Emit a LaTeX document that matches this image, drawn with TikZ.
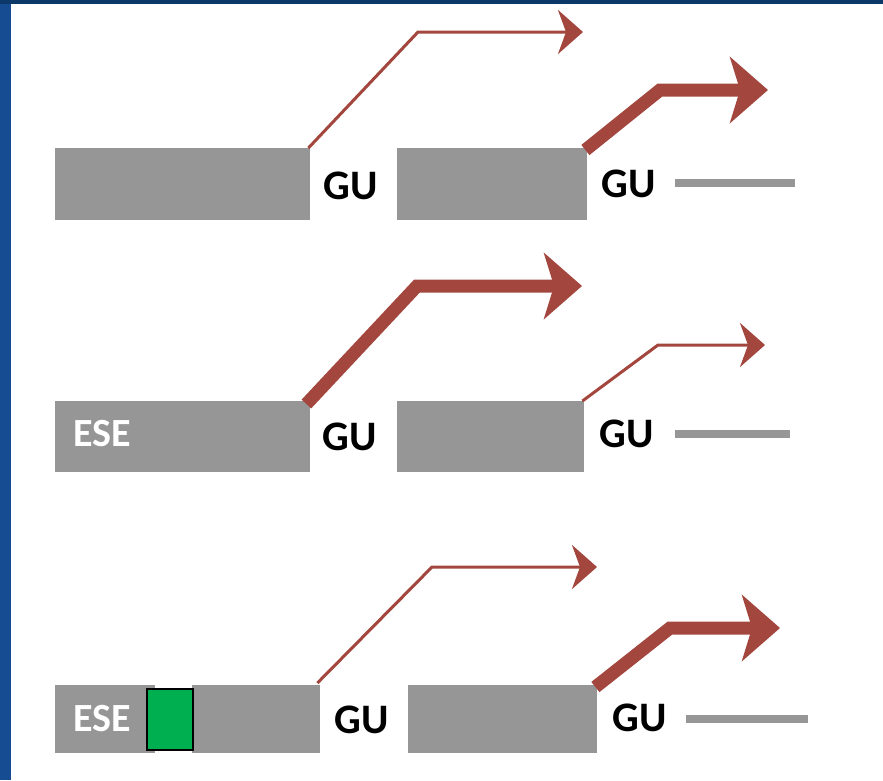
\documentclass[tikz,border=0pt]{standalone}
\usepackage{fontspec}
\setmainfont{Carlito}
\usetikzlibrary{arrows.meta}
\definecolor{bgblue}{RGB}{22,76,146}
\definecolor{bgtop}{RGB}{12,56,106}
\definecolor{exongray}{RGB}{150,150,150}
\definecolor{arrowred}{RGB}{162,70,62}
\definecolor{esegreen}{RGB}{0,176,80}
\tikzset{
  exon/.style={draw=none, fill=exongray, rectangle, inner sep=0pt, anchor=north west},
  gulabel/.style={inner sep=0pt, font=\fontsize{42}{42}\selectfont\bfseries, text=black},
  eselabel/.style={inner sep=0pt, font=\fontsize{40}{40}\selectfont\bfseries, text=white},
  thinarrow/.style={draw=arrowred, line width=3pt, line join=miter, -{Stealth[length=25pt,width=44pt,inset=8pt]}},
  thickarrow/.style={draw=arrowred, line width=13pt, line join=miter, -{Stealth[length=38pt,width=66pt,inset=10pt]}},
  intron/.style={draw=exongray, line width=8pt},
  esebox/.style={draw=black, line width=2pt, fill=esegreen, rectangle, inner sep=0pt, anchor=north west, minimum width=46pt, minimum height=61pt}
}
\begin{document}
\begin{tikzpicture}[x=1pt,y=-1pt]
\useasboundingbox (0,0) rectangle (883,780);
% background
\fill[white] (0,0) rectangle (883,780);
\fill[bgblue] (0,0) rectangle (11,780);
\fill[bgtop] (0,0) rectangle (883,4);

% ---------- Row 1 ----------
\node[exon, minimum width=255pt, minimum height=72pt] (a1) at (55,148) {};
\node[exon, minimum width=190pt, minimum height=72pt] (b1) at (397,148) {};
\node[gulabel] (gu1a) at (351,186) {GU};
\node[gulabel] (gu1b) at (629,184) {GU};
\coordinate (i1s) at (675,183);
\coordinate (i1e) at (795,183);
\draw[intron] (i1s) -- (i1e);
\coordinate (c1a) at (418,32);
\coordinate (e1a) at (583,32);
\draw[thinarrow] ([xshift=-2pt]a1.north east) -- (c1a) -- (e1a);
\coordinate (c1b) at (660,90);
\coordinate (e1b) at (768,90);
\draw[thickarrow] ([xshift=-2pt,yshift=-2pt]b1.north east) -- (c1b) -- (e1b);

% ---------- Row 2 ----------
\node[exon, minimum width=255pt, minimum height=71pt] (a2) at (55,401) {};
\node[eselabel] (ese2) at (102,434) {ESE};
\node[exon, minimum width=187pt, minimum height=71pt] (b2) at (397,401) {};
\node[gulabel] (gu2a) at (350,437) {GU};
\node[gulabel] (gu2b) at (627,434) {GU};
\coordinate (i2s) at (675,434);
\coordinate (i2e) at (790,434);
\draw[intron] (i2s) -- (i2e);
\coordinate (c2a) at (417,286);
\coordinate (e2a) at (582,286);
\draw[thickarrow] ([xshift=-4pt,yshift=-3pt]a2.north east) -- (c2a) -- (e2a);
\coordinate (c2b) at (658,345);
\coordinate (e2b) at (765,345);
\draw[thinarrow] ([xshift=-2pt]b2.north east) -- (c2b) -- (e2b);

% ---------- Row 3 ----------
\node[exon, minimum width=100pt, minimum height=68pt] (a3l) at (55,685) {};
\node[exon, minimum width=128pt, minimum height=68pt] (a3r) at (192,685) {};
\node[esebox] (g3) at (146,688) {};
\node[eselabel] (ese3) at (102,719) {ESE};
\node[exon, minimum width=189pt, minimum height=68pt] (b3) at (408,685) {};
\node[gulabel] (gu3a) at (362,720) {GU};
\node[gulabel] (gu3b) at (640,718) {GU};
\coordinate (i3s) at (686,719);
\coordinate (i3e) at (808,719);
\draw[intron] (i3s) -- (i3e);
\coordinate (c3a) at (432,567);
\coordinate (e3a) at (597,567);
\draw[thinarrow] ([xshift=-3pt,yshift=2pt]a3r.north east) -- (c3a) -- (e3a);
\coordinate (c3b) at (670,628);
\coordinate (e3b) at (780,628);
\draw[thickarrow] ([xshift=-2pt,yshift=-2pt]b3.north east) -- (c3b) -- (e3b);
\end{tikzpicture}
\end{document}
